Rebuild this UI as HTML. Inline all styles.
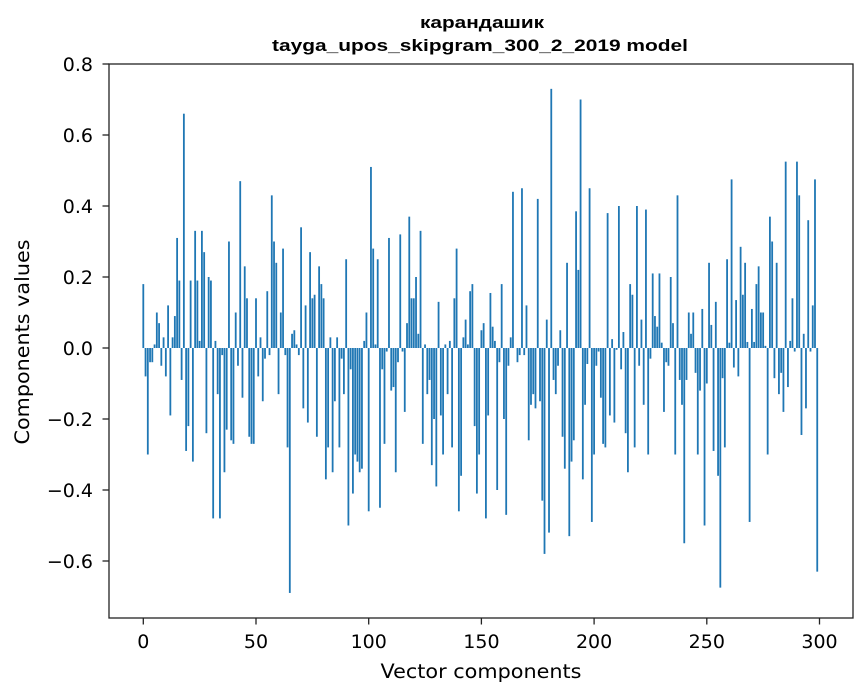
<!DOCTYPE html>
<html><head><meta charset="utf-8"><style>
html,body{margin:0;padding:0;background:#fff;}
svg{display:block;}
text{font-family:"DejaVu Sans","Liberation Sans",sans-serif;fill:#000;}
.title{font-family:"Liberation Sans","DejaVu Sans",sans-serif;font-weight:bold;font-size:16.5px;}
</style></head><body>
<svg id="chart" width="867" height="696" viewBox="0 0 867 696" xmlns="http://www.w3.org/2000/svg">
<rect width="867" height="696" fill="#fff"/>
<text class="title" x="482" y="28" text-anchor="middle" textLength="124" lengthAdjust="spacingAndGlyphs">карандашик</text>
<text class="title" x="480" y="51" text-anchor="middle" textLength="416" lengthAdjust="spacingAndGlyphs">tayga_upos_skipgram_300_2_2019 model</text>
<g id="bars"></g>
<g id="axes"></g>
<text x="481" y="678" text-anchor="middle" font-size="19.5" textLength="201" lengthAdjust="spacingAndGlyphs">Vector components</text>
<text transform="translate(29,342) rotate(-90)" text-anchor="middle" font-size="19.5" textLength="205" lengthAdjust="spacingAndGlyphs">Components values</text>
</svg>
<script>
const values = [
0.18,-0.08,-0.30,-0.04,-0.04,0.01,0.10,0.07,-0.05,0.03,
-0.08,0.12,-0.19,0.03,0.09,0.31,0.19,-0.09,0.66,-0.29,
-0.22,0.19,-0.32,0.33,0.19,0.02,0.33,0.27,-0.24,0.20,
0.19,-0.48,0.02,-0.13,-0.48,-0.02,-0.35,-0.23,0.30,-0.26,
-0.27,0.10,-0.05,0.47,-0.14,0.23,0.14,-0.25,-0.27,-0.27,
0.14,-0.08,0.03,-0.15,-0.03,0.16,-0.02,0.43,0.30,0.24,
-0.13,0.10,0.28,-0.02,-0.28,-0.69,0.04,0.05,0.01,-0.02,
0.34,-0.17,0.12,-0.21,0.27,0.14,0.15,-0.25,0.23,0.18,
0.14,-0.37,-0.28,0.03,-0.35,-0.15,0.03,-0.28,-0.03,-0.13,
0.25,-0.50,-0.06,-0.41,-0.30,-0.32,-0.35,-0.34,0.02,0.10,
-0.46,0.51,0.28,0.01,0.25,-0.45,-0.06,-0.27,-0.01,0.31,
-0.12,-0.11,-0.35,-0.04,0.32,-0.01,-0.18,0.07,0.37,0.14,
0.14,0.20,0.04,0.33,-0.27,0.01,-0.13,-0.09,-0.33,-0.20,
-0.39,0.13,-0.19,-0.30,0.01,-0.13,0.02,-0.28,0.14,0.28,
-0.46,-0.36,0.03,0.08,0.01,0.16,0.18,-0.22,-0.41,-0.30,
0.05,0.07,-0.48,-0.19,0.155,0.06,0.02,-0.40,-0.04,0.18,
-0.20,-0.47,-0.05,0.03,0.44,0.0,-0.04,-0.02,0.45,-0.02,
0.12,-0.26,-0.16,-0.13,-0.17,0.42,-0.15,-0.43,-0.58,0.08,
-0.52,0.73,-0.09,-0.13,-0.05,0.05,-0.25,-0.34,0.24,-0.53,
-0.32,-0.26,0.385,0.22,0.70,-0.37,-0.16,-0.045,0.45,-0.49,
-0.30,-0.05,-0.01,-0.14,-0.27,-0.28,0.38,-0.19,0.025,-0.21,
-0.005,0.40,-0.06,0.045,-0.24,-0.35,0.18,0.15,-0.28,0.40,
-0.05,0.08,-0.16,0.39,-0.30,-0.03,0.21,0.09,0.06,0.21,
0.015,-0.18,-0.04,-0.05,0.20,0.07,-0.30,0.43,-0.09,-0.16,
-0.55,-0.09,0.10,0.04,0.10,-0.07,-0.30,-0.12,0.11,-0.50,
-0.10,0.24,0.065,-0.29,0.13,-0.36,-0.675,-0.085,-0.28,0.25,
0.015,0.475,-0.055,0.135,-0.08,0.285,0.15,0.24,0.017,-0.49,
0.11,0.017,0.18,0.23,0.10,0.10,0.006,-0.30,0.37,0.30,
-0.085,0.24,-0.13,-0.07,-0.18,0.525,-0.11,0.02,0.14,-0.01,
0.525,0.43,-0.245,0.04,-0.17,0.36,-0.01,0.12,0.475,-0.63
];
const xTicks = [0,50,100,150,200,250,300];
const yTicks = [0.8,0.6,0.4,0.2,0.0,-0.2,-0.4,-0.6];

const L=109,R=853,T=64,B=618;
const x0=143.3, xs=2.254;
const y0=348, ys=355;
function X(v){return x0+v*xs;}
function Y(v){return y0-v*ys;}
const NS="http://www.w3.org/2000/svg";
const bars=document.getElementById('bars');
const bw=0.8*xs;
values.forEach((v,i)=>{
  const r=document.createElementNS(NS,'rect');
  
  
  const top=Math.min(Y(v),Y(0)), h=Math.abs(Y(v)-Y(0));
  r.setAttribute('x',(X(i)-bw/2).toFixed(2));
  r.setAttribute('y',top.toFixed(2));
  r.setAttribute('width',bw.toFixed(2));
  r.setAttribute('height',Math.max(h,0.01).toFixed(2));
  r.setAttribute('fill','#1f77b4');
  bars.appendChild(r);
});
const axes=document.getElementById('axes');
const frame=document.createElementNS(NS,'rect');


frame.setAttribute('x',L);frame.setAttribute('y',T);
frame.setAttribute('width',R-L);frame.setAttribute('height',B-T);
frame.setAttribute('fill','none');frame.setAttribute('stroke','#222');frame.setAttribute('stroke-width','1.3');
axes.appendChild(frame);
xTicks.forEach(t=>{
  const l=document.createElementNS(NS,'line');
  
  
  l.setAttribute('x1',X(t));l.setAttribute('x2',X(t));l.setAttribute('y1',B);l.setAttribute('y2',B+6.5);
  l.setAttribute('stroke','#222');l.setAttribute('stroke-width','1.3');
  axes.appendChild(l);
  const tx=document.createElementNS(NS,'text');
  
  
  tx.setAttribute('x',X(t));tx.setAttribute('y',648);tx.setAttribute('text-anchor','middle');tx.setAttribute('font-size','19');
  tx.textContent=String(t);
  axes.appendChild(tx);
});
yTicks.forEach(t=>{
  const l=document.createElementNS(NS,'line');
  
  
  l.setAttribute('x1',L-6.5);l.setAttribute('x2',L);l.setAttribute('y1',Y(t));l.setAttribute('y2',Y(t));
  l.setAttribute('stroke','#222');l.setAttribute('stroke-width','1.3');
  axes.appendChild(l);
  const tx=document.createElementNS(NS,'text');
  
  
  tx.setAttribute('x',93);tx.setAttribute('y',Y(t)+6.8);tx.setAttribute('text-anchor','end');tx.setAttribute('font-size','19');
  tx.textContent=(t<0?'\u2212':'')+Math.abs(t).toFixed(1);
  axes.appendChild(tx);
});
</script>
</body></html>
